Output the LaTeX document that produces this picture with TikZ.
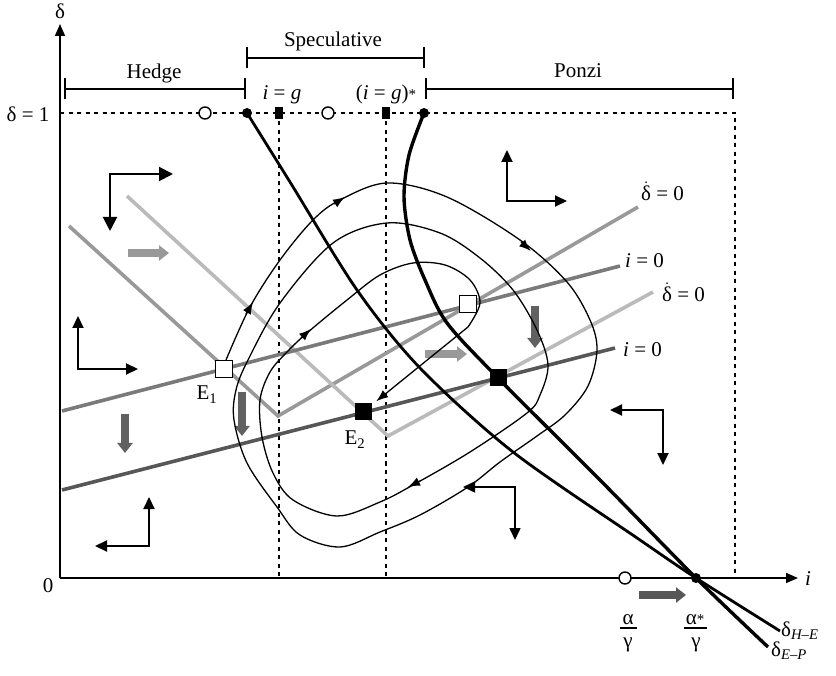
\documentclass[tikz,border=0pt]{standalone}
\usepackage{fontspec}
\setmainfont{Liberation Serif}
\usetikzlibrary{arrows.meta}

\begin{document}
\begin{tikzpicture}[x=1pt, y=-1pt, font=\fontsize{21}{25}\selectfont,
  every node/.style={inner sep=0pt},
  axis/.style={line width=1.6pt, -{Triangle[length=12pt,width=10pt]}},
  brk/.style={line width=2.2pt, arrows={Bar[width=21pt]-Bar[width=21pt]}},
  dashline/.style={line width=1.1pt, dash pattern=on 4pt off 4.5pt},
  nullc/.style={line width=3.6pt},
  ridge/.style={line width=2.8pt},
  traj/.style={line width=1.3pt},
  tip/.style={line width=1.3pt, -{Latex[length=12pt,width=9pt]}},
  flow/.style={line width=2pt, arrows={Triangle[length=12pt,width=11pt]-Triangle[length=12pt,width=11pt]}},
  fat/.style={line width=7.5pt, -{Triangle[length=10pt,width=15pt]}},
  opendot/.style={circle, draw, fill=white, line width=1.4pt, minimum size=12pt},
  dot/.style={circle, fill=black, minimum size=10pt},
  tick/.style={fill=black, minimum width=8pt, minimum height=12pt},
  osq/.style={draw, fill=white, line width=1.6pt, minimum size=17pt},
  fsq/.style={fill=black, minimum size=17pt}]
  \useasboundingbox (0,0) rectangle (836,676);

  \coordinate (hE) at (247,113);
  \coordinate (eP) at (424,113);
  \coordinate (a1) at (696,578);
  \coordinate (e1) at (224,369);
  \coordinate (e2) at (363,412);

  % axes and regimes
  \draw[axis] (60,578) -- (60,24);
  \draw[axis] (60,578) -- (798,578);
  \node[anchor=base] (dl) at (60,19) {δ};
  \node[anchor=base] (il) at (808,585) {\textit{i}};
  \node[anchor=base] (zl) at (48,592) {0};
  \node[anchor=base] (onel) at (28,122) {δ = 1};
  \draw[brk] (64,89) -- (246,89);
  \draw[brk] (246,58) -- (425,58);
  \draw[brk] (425,89) -- (734,89);
  \node[anchor=base] (hedge) at (154,79) {Hedge};
  \node[anchor=base] (spec) at (333,47) {Speculative};
  \node[anchor=base] (ponzi) at (578,78) {Ponzi};
  \node[anchor=base] (ig) at (282,100) {\textit{i} = \textit{g}};
  \node[anchor=base] (igs) at (386,100) {(\textit{i} = \textit{g}){\fontsize{15}{15}\selectfont *}};
  \draw[dashline] (60,113) -- (735,113) -- (735,578);
  \draw[dashline] (279,113) -- (279,578);
  \draw[dashline] (386,113) -- (386,578);

  % isoclines
  \draw[nullc, draw=black!40] (69,226) -- (278,416) -- (638,207);
  \draw[nullc, draw=black!27] (127,196) -- (388,436) -- (653,292);
  \draw[nullc, draw=black!52] (62,411) -- (620,266);
  \draw[nullc, draw=black!66] (62,490) -- (615,348);
  \node[anchor=base west] (d1) at (641,201) {$\dot{\mbox{δ}}$ = 0};
  \node[anchor=base west] (i1) at (625,268) {\textit{i} = 0};
  \node[anchor=base west] (d2) at (662,302) {$\dot{\mbox{δ}}$ = 0};
  \node[anchor=base west] (i2) at (623,357) {\textit{i} = 0};

  % shifts
  \draw[fat, draw=black!40] (128,253) -- (169,253);
  \draw[fat, draw=black!40] (425,354) -- (467,354);
  \draw[fat, draw=black!62] (125,414) -- (125,453);
  \draw[fat, draw=black!62] (242,392) -- (242,436);
  \draw[fat, draw=black!62] (535,306) -- (535,348);
  \draw[fat, draw=black!66] (639,595) -- (686,595);

  % directions
  \draw[flow, arrows={Triangle[length=14pt,width=14pt]-Triangle[length=14pt,width=14pt]}] (110,231) |- (173,174);
  \draw[flow] (78,316) |- (138,369);
  \draw[flow] (149,497) |- (95,546);
  \draw[flow] (507,150) |- (567,201);
  \draw[flow] (663,465) |- (610,410);
  \draw[flow, line width=1.6pt] (515,540) |- (463,487);

  % trajectory
  \draw[traj] plot[smooth, tension=0.55] coordinates {(226,360) (250,307) (280,260) (313,220) (340,200)
    (387,183) (447,197) (520,240) (567,282) (590,320) (597,350) (588,386) (565,415) (537,436)
    (500,462) (468,487) (420,515) (380,532) (340,547) (300,535) (277,507) (247,463) (234,420)
    (236,390) (248,360) (280,303) (333,243) (387,223) (440,233) (480,258) (513,290) (537,330)
    (548,365) (540,395) (527,413) (470,452) (413,485) (380,502) (337,516) (293,500) (273,473)
    (262,437) (260,400) (270,372) (287,352) (307,333) (347,300) (380,275) (413,263) (445,265)
    (470,280) (480,303) (468,327)};
  \draw[tip] (246,314) -- (253,302);
  \draw[tip] (334,204) -- (345,197);
  \draw[tip] (521,242) -- (531,251);
  \draw[tip] (420,481) -- (408,487);
  \draw[tip] (301,338) -- (311,329);
  \draw[tip, shorten >=17pt] (468,327) -- (e2);

  % boundaries
  \draw[ridge] plot[smooth] coordinates {(hE) (290,182) (357,290) (420,368) (513,452) (640,540) (a1) (780,631)};
  \draw[ridge, line width=3.4pt] plot[smooth] coordinates {(eP) (409,155) (404,197) (410,240) (425,280)
    (447,323) (498,378) (600,480) (a1) (768,647)};
  \node[anchor=base west] (dhe) at (781,636) {δ\textsubscript{\textit{H–E}}};
  \node[anchor=base west] (dep) at (771,656) {δ\textsubscript{\textit{E–P}}};

  % markers
  \node[opendot] (o1) at (205,113) {};
  \node[dot] (p1) at (hE) {};
  \node[tick] (g1) at (279,113) {};
  \node[opendot] (o2) at (328,113) {};
  \node[tick] (g2) at (386,113) {};
  \node[dot] (p2) at (eP) {};
  \node[opendot] (a0) at (625,578) {};
  \node[dot] (p3) at (a1) {};
  \node[osq] (E1) at (e1) {};
  \node[osq] (S1) at (468,304) {};
  \node[fsq] (E2) at (e2) {};
  \node[fsq] (S2) at (498,378) {};
  \node[anchor=base] (E1l) at (207,400) {E\textsubscript{1}};
  \node[anchor=base] (E2l) at (355,445) {E\textsubscript{2}};

  % intercepts
  \node[anchor=base] (al) at (628,624) {α};
  \draw[line width=2pt] (620,628) -- (637,628);
  \node[anchor=base] (gl) at (628,647) {γ};
  \node[anchor=base] (asl) at (695,624) {α{\fontsize{15}{15}\selectfont *}};
  \draw[line width=2pt] (684,628) -- (707,628);
  \node[anchor=base] (gsl) at (696,647) {γ};
\end{tikzpicture}
\end{document}
